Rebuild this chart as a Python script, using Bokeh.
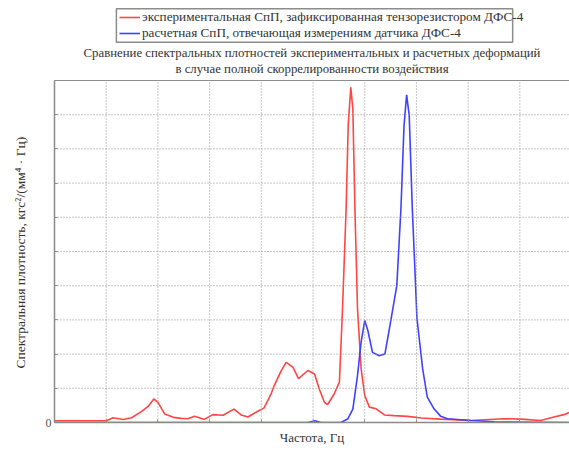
from bokeh.plotting import figure
from bokeh.models import Range1d, FixedTicker, Title, Legend, LegendItem, Label
from bokeh.embed import file_html
from bokeh.resources import INLINE

# --- data (frequency in grid units, spectral density in grid units) ---
red_x = [0, 0.5, 1.0, 1.05, 1.13, 1.33, 1.49, 1.68, 1.81, 1.92, 2.0, 2.13, 2.3, 2.45, 2.58, 2.71, 2.9,
         3.06, 3.26, 3.47, 3.61, 3.74, 3.93, 4.05, 4.19, 4.25, 4.38, 4.48, 4.61, 4.72, 4.9, 5.03, 5.12,
         5.22, 5.28, 5.41, 5.51, 5.57, 5.64, 5.68, 5.73, 5.77, 5.81, 5.86, 5.93, 6.0, 6.09, 6.22, 6.38,
         6.57, 6.83, 7.09, 7.47, 8.05, 8.69, 9.02, 9.40, 9.66, 9.85, 10.0]
red_y = [0.05, 0.05, 0.05, 0.08, 0.14, 0.09, 0.14, 0.32, 0.47, 0.69, 0.59, 0.25, 0.15, 0.12, 0.11, 0.18, 0.09,
         0.23, 0.21, 0.39, 0.22, 0.16, 0.33, 0.42, 0.84, 1.08, 1.50, 1.76, 1.62, 1.28, 1.52, 1.42, 0.98,
         0.59, 0.52, 0.84, 1.18, 3.32, 6.25, 8.68, 9.80, 9.17, 6.26, 3.33, 1.57, 0.79, 0.45, 0.40, 0.22,
         0.20, 0.18, 0.13, 0.10, 0.06, 0.11, 0.10, 0.06, 0.16, 0.23, 0.32]

blue_x = [0, 4.9, 5.04, 5.15, 5.54, 5.67, 5.77, 5.86, 5.93, 6.0, 6.06, 6.15, 6.28, 6.39, 6.51, 6.62, 6.70,
          6.76, 6.81, 6.86, 6.92, 7.01, 7.12, 7.21, 7.34, 7.47, 7.6, 8.05, 8.5, 10.0]
blue_y = [0, 0, 0.05, 0, 0, 0.1, 0.39, 1.37, 2.35, 2.98, 2.69, 2.05, 1.95, 2.0, 3.03, 4.0, 6.25,
          8.68, 9.58, 8.98, 6.26, 3.04, 1.57, 0.74, 0.40, 0.18, 0.11, 0.06, 0.02, 0.0]

grid_ticks = list(range(0, 11))
y_top = 10
legend_labels = ["экспериментальная СпП, зафиксированная тензорезистором ДФС-4",
                 "расчетная СпП, отвечающая измерениям датчика ДФС-4"]
title_lines = ["Сравнение спектральных плотностей экспериментальных и расчетных деформаций",
               "в случае полной скоррелированности воздействия"]
x_label = "Частота, Гц"
y_label = "Спектральная плотность, кгс²/(мм⁴ · Гц)"

FONT = "Liberation Serif"
TXT = "#333333"
RED = "#ff4545"
BLUE = "#4040ff"
GRAY = "#8e8e8e"

# frame spans the whole height above the x axis; the data area is 0..10,
# the area above it holds the legend and the title
p = figure(width=569, height=454, output_backend="svg", toolbar_location=None,
           x_range=Range1d(0, 9.96), y_range=Range1d(0, 12.164),
           min_border_left=53, min_border_right=0, min_border_bottom=32, min_border_top=6)
p.background_fill_color = "white"
p.border_fill_color = "white"
p.outline_line_color = None
p.xgrid.visible = False
p.ygrid.visible = False

r_red = p.line(red_x, red_y, line_color=RED, line_width=1.6)
r_blue = p.line(blue_x, blue_y, line_color=BLUE, line_width=1.6)

# grid lines across the data area only, and its top border
vx = grid_ticks[1:-1]
hy = grid_ticks[1:-1]
p.segment(x0=vx, y0=[grid_ticks[0]] * len(vx), x1=vx, y1=[y_top] * len(vx),
          line_color=GRAY, line_dash="1 2", line_width=1, level="overlay")
p.segment(x0=[grid_ticks[0]] * len(hy), y0=hy, x1=[grid_ticks[-1]] * len(hy), y1=hy,
          line_color=GRAY, line_dash="1 2", line_width=1, level="overlay")
p.segment(x0=[grid_ticks[0]], y0=[y_top], x1=[grid_ticks[-1]], y1=[y_top],
          line_color=GRAY, line_width=1.2, level="overlay")

for ax in (p.xaxis[0], p.yaxis[0]):
    ax.ticker = FixedTicker(ticks=grid_ticks)
    ax.axis_line_color = "#8a8a8a"
    ax.axis_line_width = 1.5
    ax.major_tick_in = 3
    ax.major_tick_out = 0
    ax.major_tick_line_color = "#8a8a8a"
    ax.minor_tick_line_color = None
    ax.axis_label_text_font = FONT
    ax.axis_label_text_font_style = "normal"
    ax.axis_label_text_color = TXT
    ax.major_label_text_font = FONT
    ax.major_label_text_font_size = "12px"
    ax.major_label_text_color = "#555555"

p.xaxis[0].major_label_overrides = {t: "" for t in grid_ticks}
p.xaxis[0].major_label_standoff = 0
p.xaxis[0].axis_label = x_label
p.xaxis[0].axis_label_text_font_size = "13px"
p.xaxis[0].axis_label_standoff = 7

p.yaxis[0].bounds = (0, y_top)
p.yaxis[0].major_label_overrides = {t: ("0" if t == 0 else "") for t in grid_ticks}
p.yaxis[0].major_label_standoff = 3

# y axis title, placed along the data area
p.add_layout(Title(text=y_label, align="left", offset=54, vertical_align="top", standoff=25,
                   text_font=FONT, text_font_size="13.5px", text_font_style="normal",
                   text_color=TXT), "left")

# title
for txt, yy in zip(title_lines, [10.79, 10.35]):
    p.add_layout(Label(x=4.98, y=yy, text=txt, text_align="center", text_baseline="middle",
                       text_font=FONT, text_font_size="12.8px", text_color=TXT))

# legend frame
p.quad(left=[1.197], right=[8.861], bottom=[11.12], top=[12.096],
       fill_color=None, line_color="#8c8c8c", line_width=1.5, level="overlay")

legend = Legend(items=[LegendItem(label=legend_labels[0], renderers=[r_red]),
                       LegendItem(label=legend_labels[1], renderers=[r_blue])],
                location=(65, 381), orientation="vertical",
                label_text_font=FONT, label_text_font_size="13.2px", label_text_color=TXT,
                glyph_width=21, glyph_height=14, label_height=14, label_standoff=2,
                padding=1, spacing=0, margin=0,
                border_line_color=None, background_fill_alpha=0)
p.add_layout(legend, "center")

open("out.html", "w").write(file_html(p, INLINE))
